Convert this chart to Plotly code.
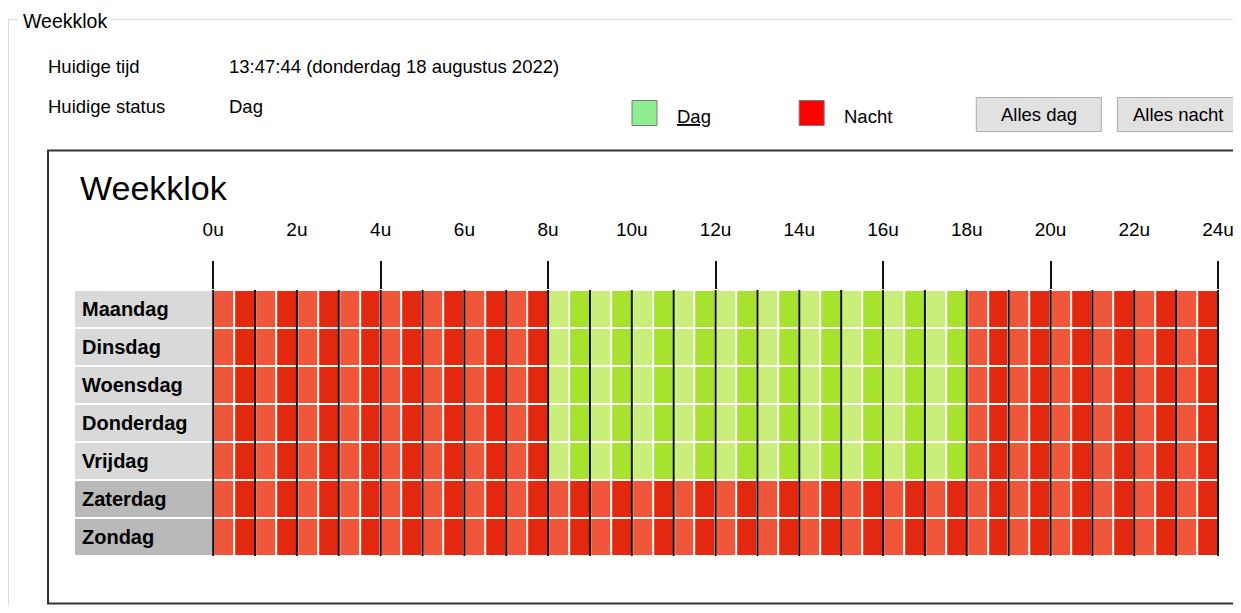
import plotly.graph_objects as go

# ---------------- data ----------------
days = ["Maandag", "Dinsdag", "Woensdag", "Donderdag", "Vrijdag", "Zaterdag", "Zondag"]
weekend = [0, 0, 0, 0, 0, 1, 1]
day_start = [8, 8, 8, 8, 8, None, None]     # start of "Dag" period (hour)
day_end = [18, 18, 18, 18, 18, None, None]  # end of "Dag" period (hour)
hour_ticks = [0, 2, 4, 6, 8, 10, 12, 14, 16, 18, 20, 22, 24]
hour_tick_labels = ["0u", "2u", "4u", "6u", "8u", "10u", "12u", "14u", "16u", "18u", "20u", "22u", "24u"]
major_ticks = [0, 4, 8, 12, 16, 20, 24]
hours = list(range(0, 25))
slots_per_hour = 2

# ---------------- style ----------------
OFF = 8  # page body margin
W_EFF = 1241 - OFF          # rendered width
W_LAYOUT = W_EFF + 15       # compensates for the width the page takes away
H = 613 - 2 * OFF
FONT = "Liberation Sans, Arial, sans-serif"
C_NIGHT_A, C_NIGHT_B = "#f0573a", "#e2290f"
C_DAY_A, C_DAY_B = "#c9ee79", "#a6e22e"
C_LBL_WEEK, C_LBL_WEEKEND = "#d9d9d9", "#b9b9b9"


def px_x(v):
    return (v - OFF) / W_EFF


def px_y(v):
    return 1 - (v - OFF) / H


# slot edges and codes: 0 night-first-half, 1 night-second-half, 2 day-first-half, 3 day-second-half
n_slots = 24 * slots_per_hour
edges = [i / slots_per_hour for i in range(n_slots + 1)]
z = []
for d in range(len(days)):
    row = []
    for s in range(n_slots):
        t = edges[s]
        is_day = day_start[d] is not None and day_start[d] <= t < day_end[d]
        row.append((2 if is_day else 0) + (s % 2))
    z.append(row)

# axis geometry: 0u at px 213, 24u at px 1217 (screen coordinates)
x_left, x_right = -3.3, 24.05
ppu = (1217 - 213) / 24.0
dom_x0 = px_x(213 + x_left * ppu)
dom_x1 = px_x(213 + x_right * ppu)

fig = go.Figure()

# label column backgrounds
fig.add_trace(go.Heatmap(
    x=[x_left, 0], y=list(range(len(days))), z=[[w] for w in weekend],
    colorscale=[[0, C_LBL_WEEK], [1, C_LBL_WEEKEND]], zmin=0, zmax=1,
    showscale=False, ygap=2, hoverinfo="skip",
))

# schedule cells
fig.add_trace(go.Heatmap(
    x=edges, y=list(range(len(days))), z=z,
    colorscale=[[0, C_NIGHT_A], [1 / 3, C_NIGHT_B], [2 / 3, C_DAY_A], [1, C_DAY_B]],
    zmin=0, zmax=3, showscale=False, xgap=2, ygap=2, hoverinfo="skip",
))

# hour lines
lx, ly = [], []
for h in hours:
    lx += [h, h, None]
    ly += [-0.5, len(days) - 0.5, None]
fig.add_trace(go.Scatter(
    x=lx, y=ly, mode="lines", line=dict(color="#111111", width=2),
    xaxis="x2", yaxis="y", hoverinfo="skip", showlegend=False,
))

# day labels
annotations = []
for i, d in enumerate(days):
    annotations.append(dict(
        x=x_left + 0.13, y=i, xref="x", yref="y", text="<b>%s</b>" % d,
        showarrow=False, xanchor="left", yanchor="middle",
        font=dict(family=FONT, size=20, color="#000000"),
    ))


def txt(x, y, s, size=18.5, anchor="left", color="#000000"):
    annotations.append(dict(
        x=px_x(x), y=px_y(y), xref="paper", yref="paper", text=s, showarrow=False,
        xanchor=anchor, yanchor="middle", font=dict(family=FONT, size=size, color=color),
    ))


txt(21, 21, "Weekklok", size=19.5)
txt(46, 66, "Huidige tijd")
txt(227, 66, "13:47:44 (donderdag 18 augustus 2022)")
txt(46, 107, "Huidige status")
txt(227, 107, "Dag")
txt(674, 116, "<u>Dag</u>")
txt(841, 116, "Nacht")
txt(1038, 115, "Alles dag", anchor="center")
txt(1178, 115, "Alles nacht", anchor="center")
txt(78, 188, "Weekklok", size=34)

shapes = []


def rect(x0, y0, x1, y1, fill, line, lw=1):
    shapes.append(dict(type="rect", xref="paper", yref="paper",
                       x0=px_x(x0), x1=px_x(x1), y0=px_y(y1), y1=px_y(y0),
                       fillcolor=fill, line=dict(color=line, width=lw), layer="below"))


def line(x0, y0, x1, y1, color, lw=1):
    shapes.append(dict(type="line", xref="paper", yref="paper",
                       x0=px_x(x0), x1=px_x(x1), y0=px_y(y0), y1=px_y(y1),
                       line=dict(color=color, width=lw), layer="below"))


# group box
line(8, 19.5, 18, 19.5, "#dcdcdc")
line(111, 19.5, 1245, 19.5, "#dcdcdc")
line(8.5, 19.5, 8.5, 620, "#dcdcdc")
# legend swatches
rect(631.5, 100.5, 656.5, 125.5, "#90ee90", "#7a7a7a")
rect(798.5, 100.5, 823.5, 125.5, "#ff0000", "#7a7a7a")
# buttons
rect(975.5, 97.5, 1100.5, 131.5, "#e1e1e1", "#adadad")
rect(1116.5, 97.5, 1250, 131.5, "#e1e1e1", "#adadad")
# chart frame
rect(48, 150.5, 1255, 603.5, "rgba(0,0,0,0)", "#333333", 2)

fig.update_layout(
    width=W_LAYOUT, height=H, margin=dict(l=0, r=0, t=0, b=0),
    paper_bgcolor="#ffffff", plot_bgcolor="#ffffff",
    showlegend=False, annotations=annotations, shapes=shapes,
    xaxis=dict(domain=[dom_x0, dom_x1], range=[x_left, x_right], side="top",
               tickvals=hour_ticks, ticktext=hour_tick_labels, ticks="",
               showgrid=False, zeroline=False, showline=False,
               ticklabelstandoff=49,
               tickfont=dict(family=FONT, size=19, color="#000000")),
    xaxis2=dict(domain=[dom_x0, dom_x1], range=[x_left, x_right], overlaying="x",
                side="top", tickvals=major_ticks, ticks="outside", ticklen=28,
                tickwidth=2, tickcolor="#111111", showticklabels=False,
                showgrid=False, zeroline=False, showline=False, anchor="y"),
    yaxis=dict(domain=[px_y(556), px_y(290)], range=[len(days) - 0.5, -0.5],
               showticklabels=False, showgrid=False, zeroline=False, ticks=""),
)

fig.write_html("out.html")
